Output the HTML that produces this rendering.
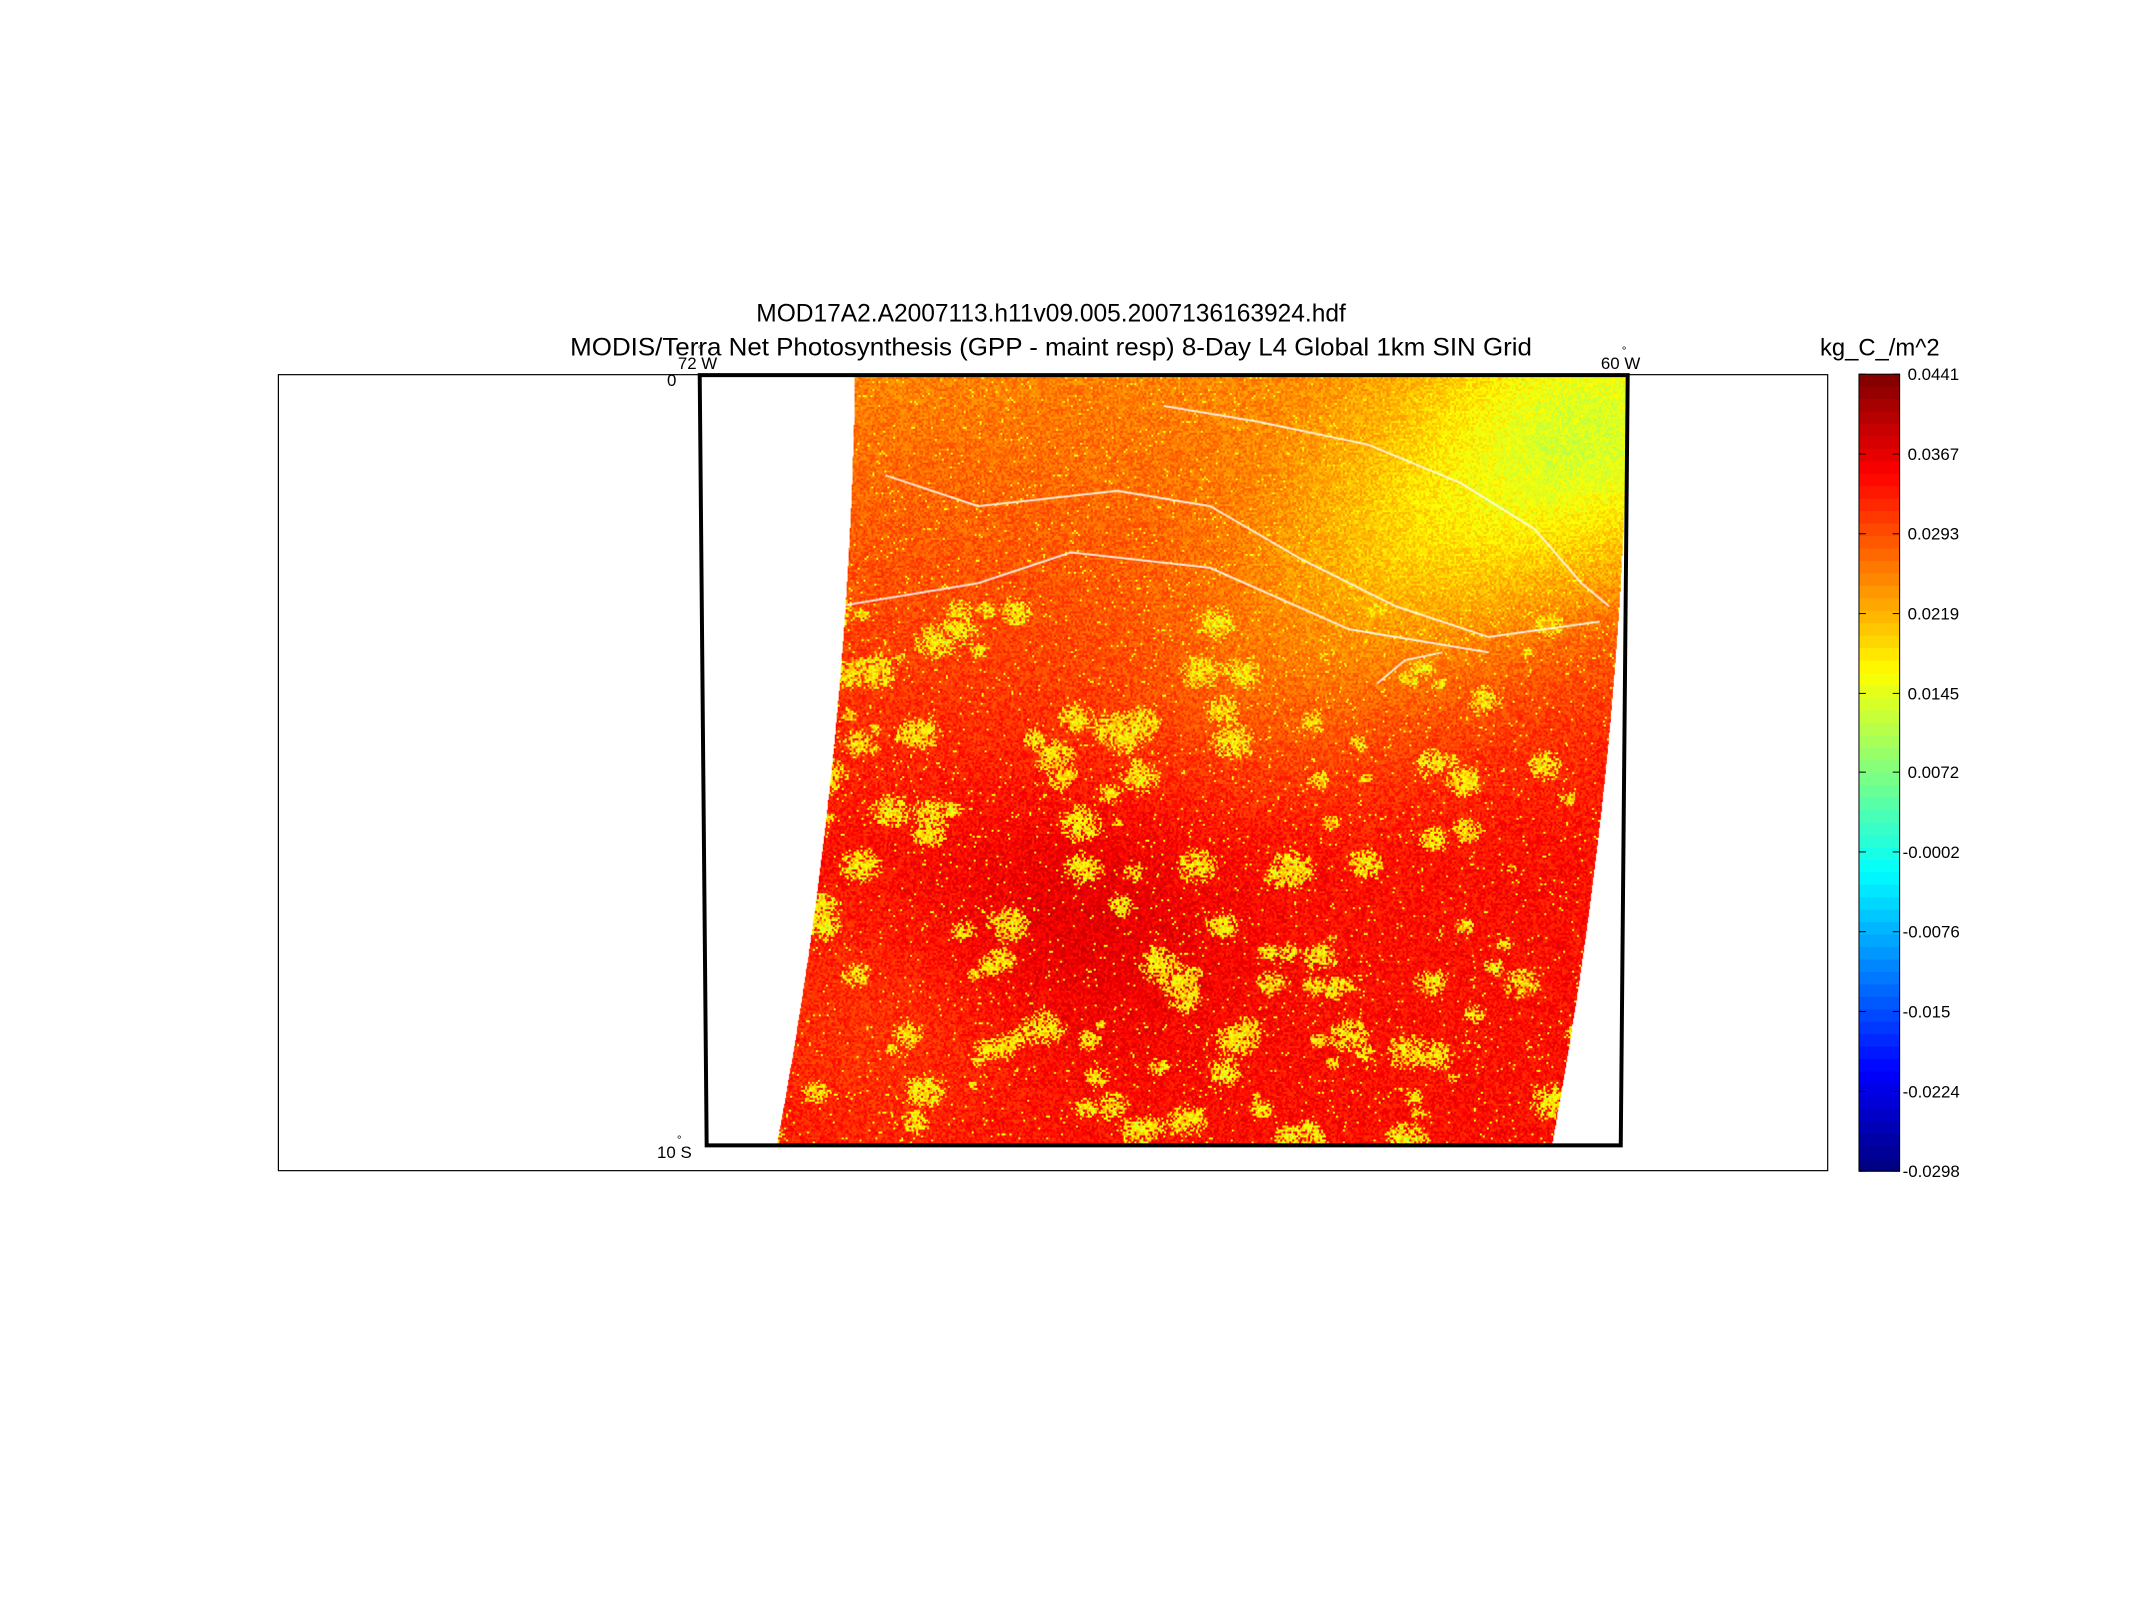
<!DOCTYPE html>
<html><head><meta charset="utf-8">
<style>
html,body{margin:0;padding:0;background:#fff;}
#wrap{position:relative;width:2137px;height:1602px;overflow:hidden;}
#inner{position:absolute;left:0;top:0;width:2137px;height:1602px;transform:scale(0.9925);transform-origin:0 0;}
canvas,svg{position:absolute;left:0;top:0;}
</style></head>
<body>
<div id="wrap">
<div id="inner">
<canvas id="map" width="2137" height="1602"></canvas>
<svg id="svg" width="2137" height="1602" font-family="'Liberation Sans', sans-serif">
  <text x="1059" y="324" font-size="25" text-anchor="middle" textLength="594" lengthAdjust="spacingAndGlyphs">MOD17A2.A2007113.h11v09.005.2007136163924.hdf</text>
  <text x="1059" y="358" font-size="25" text-anchor="middle" textLength="969" lengthAdjust="spacingAndGlyphs">MODIS/Terra Net Photosynthesis (GPP - maint resp) 8-Day L4 Global 1km SIN Grid</text>
  <rect x="280.5" y="377.5" width="1561" height="802" fill="none" stroke="#000" stroke-width="1.2"/>
  <polygon points="705,378 1640,378 1633,1154 712,1154" fill="none" stroke="#000" stroke-width="4"/>
  <text x="683" y="372" font-size="17">72 W</text>
  <text x="703" y="356" font-size="12">°</text>
  <text x="672" y="389" font-size="17">0</text>
  <text x="1613" y="372" font-size="17">60 W</text>
  <text x="1634" y="357" font-size="12">°</text>
  <text x="662" y="1167" font-size="17">10 S</text>
  <text x="682" y="1152" font-size="12">°</text>
  <text x="1894" y="358" font-size="24" text-anchor="middle">kg_C_/m^2</text>
  <g id="cbar"></g>
</svg>
</div>
</div>
<script>
// colorbar data
const cbTicks = [0.0441,0.0367,0.0293,0.0219,0.0145,0.0072,-0.0002,-0.0076,-0.015,-0.0224,-0.0298];
const cbTickLabels = ["0.0441","0.0367","0.0293","0.0219","0.0145","0.0072","-0.0002","-0.0076","-0.015","-0.0224","-0.0298"];
const vMin = -0.0298, vMax = 0.0441;
// map regional value anchors (kg C / m^2)
const regionU = [0.97, 0.78, 0.45, 0.40, 0.62, 0.20];
const regionW = [0.08, 0.22, 0.30, 0.72, 0.40, 0.85];
const regionV = [-0.012, -0.007, 0.000, 0.003, -0.003, -0.003];

const CB = {x:1873, y0:377, y1:1180, w:41};
function yScale(v){ return CB.y0 + (vMax - v)/(vMax - vMin)*(CB.y1-CB.y0); }
function clamp(a){ return Math.max(0,Math.min(1,a)); }
function jet(t){ return [clamp(1.5-Math.abs(4*t-3)), clamp(1.5-Math.abs(4*t-2)), clamp(1.5-Math.abs(4*t-1))].map(c=>Math.round(c*255)); }

const NS='http://www.w3.org/2000/svg';
const g=document.getElementById('cbar');
const N=64;
for(let i=0;i<N;i++){
  const r=document.createElementNS(NS,'rect');
  
  
  const y0=CB.y0+(CB.y1-CB.y0)*i/N, y1=CB.y0+(CB.y1-CB.y0)*(i+1)/N;
  r.setAttribute('x',CB.x); r.setAttribute('y',y0); r.setAttribute('width',CB.w); r.setAttribute('height',y1-y0+0.6);
  const c=jet(1-(i+0.5)/N);
  r.setAttribute('fill',`rgb(${c[0]},${c[1]},${c[2]})`);
  g.appendChild(r);
}
const fr=document.createElementNS(NS,'rect');


fr.setAttribute('x',CB.x);fr.setAttribute('y',CB.y0);fr.setAttribute('width',CB.w);fr.setAttribute('height',CB.y1-CB.y0);
fr.setAttribute('fill','none');fr.setAttribute('stroke','#000');fr.setAttribute('stroke-width','1');
g.appendChild(fr);
cbTicks.forEach((v,i)=>{
  const y=yScale(v);
  [[CB.x,CB.x+7],[CB.x+CB.w-7,CB.x+CB.w]].forEach(p=>{
    const l=document.createElementNS(NS,'line');
    
    
    l.setAttribute('x1',p[0]);l.setAttribute('x2',p[1]);l.setAttribute('y1',y);l.setAttribute('y2',y);l.setAttribute('stroke','#000');
    g.appendChild(l);
  });
  const t=document.createElementNS(NS,'text');
  
  
  t.setAttribute('x',CB.x+CB.w+(v<0?3:8));t.setAttribute('y',y+6);t.setAttribute('font-size','17');
  t.textContent=cbTickLabels[i];
  g.appendChild(t);
});

// map image
const cv=document.getElementById('map'), ctx=cv.getContext('2d');
const MX0=705, MX1=1640, MY0=378, MY1=1154;
let seed=12345;
function rnd(){ seed=(seed*1103515245+12345)&0x7fffffff; return seed/0x7fffffff; }
function leftEdge(w){ return 862 - 12*w - 67*w*w; }
function rightEdge(w){ return 1640 - 10*w - 67*w*w; }
// scattered yellow patches (texture)
const patches=[];
for(let i=0;i<160;i++){ const w=0.3+rnd()*0.7; patches.push([0.05+rnd()*0.9, w, 0.006+rnd()*0.022]); }
const img=ctx.createImageData(2137,1602);
const cell=2;
for(let y=MY0;y<MY1;y+=cell){
  const w=(y-MY0)/(MY1-MY0);
  const le=leftEdge(w), re=rightEdge(w);
  for(let x=Math.floor(le);x<re;x+=cell){
    const u=(x-MX0)/(MX1-MX0);
    let v=0.0255+0.0085*Math.min(1,w*1.6);
    for(let k=0;k<regionU.length;k++){
      const du=u-regionU[k], dw=w-regionW[k];
      v+=regionV[k]*Math.exp(-(du*du+dw*dw)/0.03);
    }
    let p=0;
    for(const q of patches){ const du=u-q[0], dw=w-q[1]; const d=(du*du+dw*dw)/(q[2]*q[2]); if(d<1) p=Math.max(p,1-d); }
    if(p>0 && rnd()<p*0.9) v=0.014+rnd()*0.008;
    v+=(rnd()-0.5)*0.006;
    if(rnd()<0.02) v=0.016;
    const c=jet((v-vMin)/(vMax-vMin));
    for(let dy=0;dy<cell;dy++)for(let dx=0;dx<cell;dx++){
      const xx=x+dx, yy=y+dy; if(xx>=re||yy>=MY1) continue;
      const o=(yy*2137+xx)*4; img.data[o]=c[0];img.data[o+1]=c[1];img.data[o+2]=c[2];img.data[o+3]=255;
    }
  }
}
ctx.putImageData(img,0,0);
// rivers
ctx.strokeStyle='rgba(255,255,255,0.85)'; ctx.lineWidth=2;
function river(pts){ ctx.beginPath(); pts.forEach((p,i)=>{const x=MX0+p[0]*(MX1-MX0), y=MY0+p[1]*(MY1-MY0); i?ctx.lineTo(x,y):ctx.moveTo(x,y);}); ctx.stroke(); }
river([[0.2,0.13],[0.3,0.17],[0.45,0.15],[0.55,0.17],[0.65,0.24],[0.75,0.3],[0.85,0.34],[0.97,0.32]]);
river([[0.5,0.04],[0.6,0.06],[0.72,0.09],[0.82,0.14],[0.9,0.2],[0.95,0.27],[0.98,0.3]]);
river([[0.15,0.3],[0.3,0.27],[0.4,0.23],[0.55,0.25],[0.7,0.33],[0.85,0.36]]);
river([[0.73,0.4],[0.76,0.37],[0.8,0.36]]);
</script>
</body></html>
